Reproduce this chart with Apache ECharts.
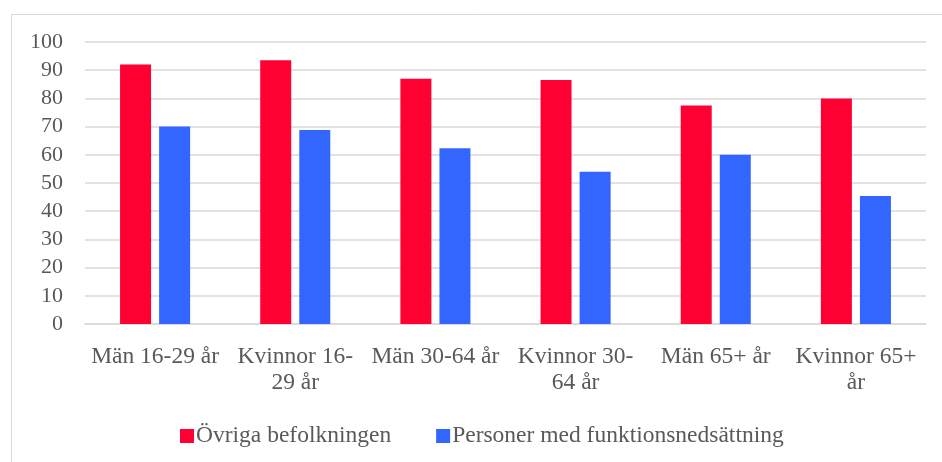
<!DOCTYPE html>
<html>
<head>
<meta charset="utf-8">
<script src="https://cdn.jsdelivr.net/npm/echarts@6/dist/echarts.min.js"></script>
<style>
  html, body { margin: 0; padding: 0; background: #fff; }
  #chart { width: 942px; height: 462px; }
</style>
</head>
<body>
<div id="chart"></div>
<script>
  var categories = ['Män 16-29 år', 'Kvinnor 16-\n29 år', 'Män 30-64 år', 'Kvinnor 30-\n64 år', 'Män 65+ år', 'Kvinnor 65+\når']
  var ovriga = [92, 93.5, 87, 86.5, 77.5, 80]
  var funktion = [70, 68.8, 62.3, 54, 60, 45.4]
  var seriesNames = ['Övriga befolkningen', 'Personer med funktionsnedsättning']

  var font = '"Liberation Serif", "Times New Roman", serif'
  var textColor = '#595959'

  var myChart = echarts.init(document.getElementById('chart'))
  var option = {
    animation: false,
    textStyle: { fontFamily: font },
    graphic: [
      {
        type: 'rect',
        shape: { x: 11.5, y: 14.5, width: 940, height: 460 },
        style: { fill: 'none', stroke: '#d9d9d9', lineWidth: 1 }
      }
    ],
    grid: { left: 85, right: 16, top: 42, bottom: 138 },
    legend: {
      left: 175,
      top: 419,
      itemWidth: 14,
      itemHeight: 14,
      itemGap: 45,
      icon: 'rect',
      textStyle: { fontFamily: font, fontSize: 23.5, color: textColor, padding: [0, 0, 0, -3] },
      data: seriesNames
    },
    xAxis: {
      type: 'category',
      data: categories,
      axisTick: { show: false },
      axisLine: { lineStyle: { color: '#d9d9d9', width: 1.5 } },
      axisLabel: {
        interval: 0,
        margin: 20,
        fontFamily: font,
        fontSize: 23.5,
        lineHeight: 26,
        color: textColor
      }
    },
    yAxis: {
      type: 'value',
      min: 0,
      max: 100,
      interval: 10,
      axisLine: { show: false },
      axisTick: { show: false },
      splitLine: { lineStyle: { color: '#d9d9d9', width: 1.5 } },
      axisLabel: { margin: 22, fontFamily: font, fontSize: 22, color: textColor }
    },
    series: [
      {
        name: seriesNames[0],
        type: 'bar',
        data: ovriga,
        barWidth: 31,
        barGap: '26%',
        itemStyle: { color: '#ff0033' }
      },
      {
        name: seriesNames[1],
        type: 'bar',
        data: funktion,
        barWidth: 31,
        itemStyle: { color: '#3366ff' }
      }
    ]
  }
  myChart.setOption(option)
</script>
</body>
</html>
